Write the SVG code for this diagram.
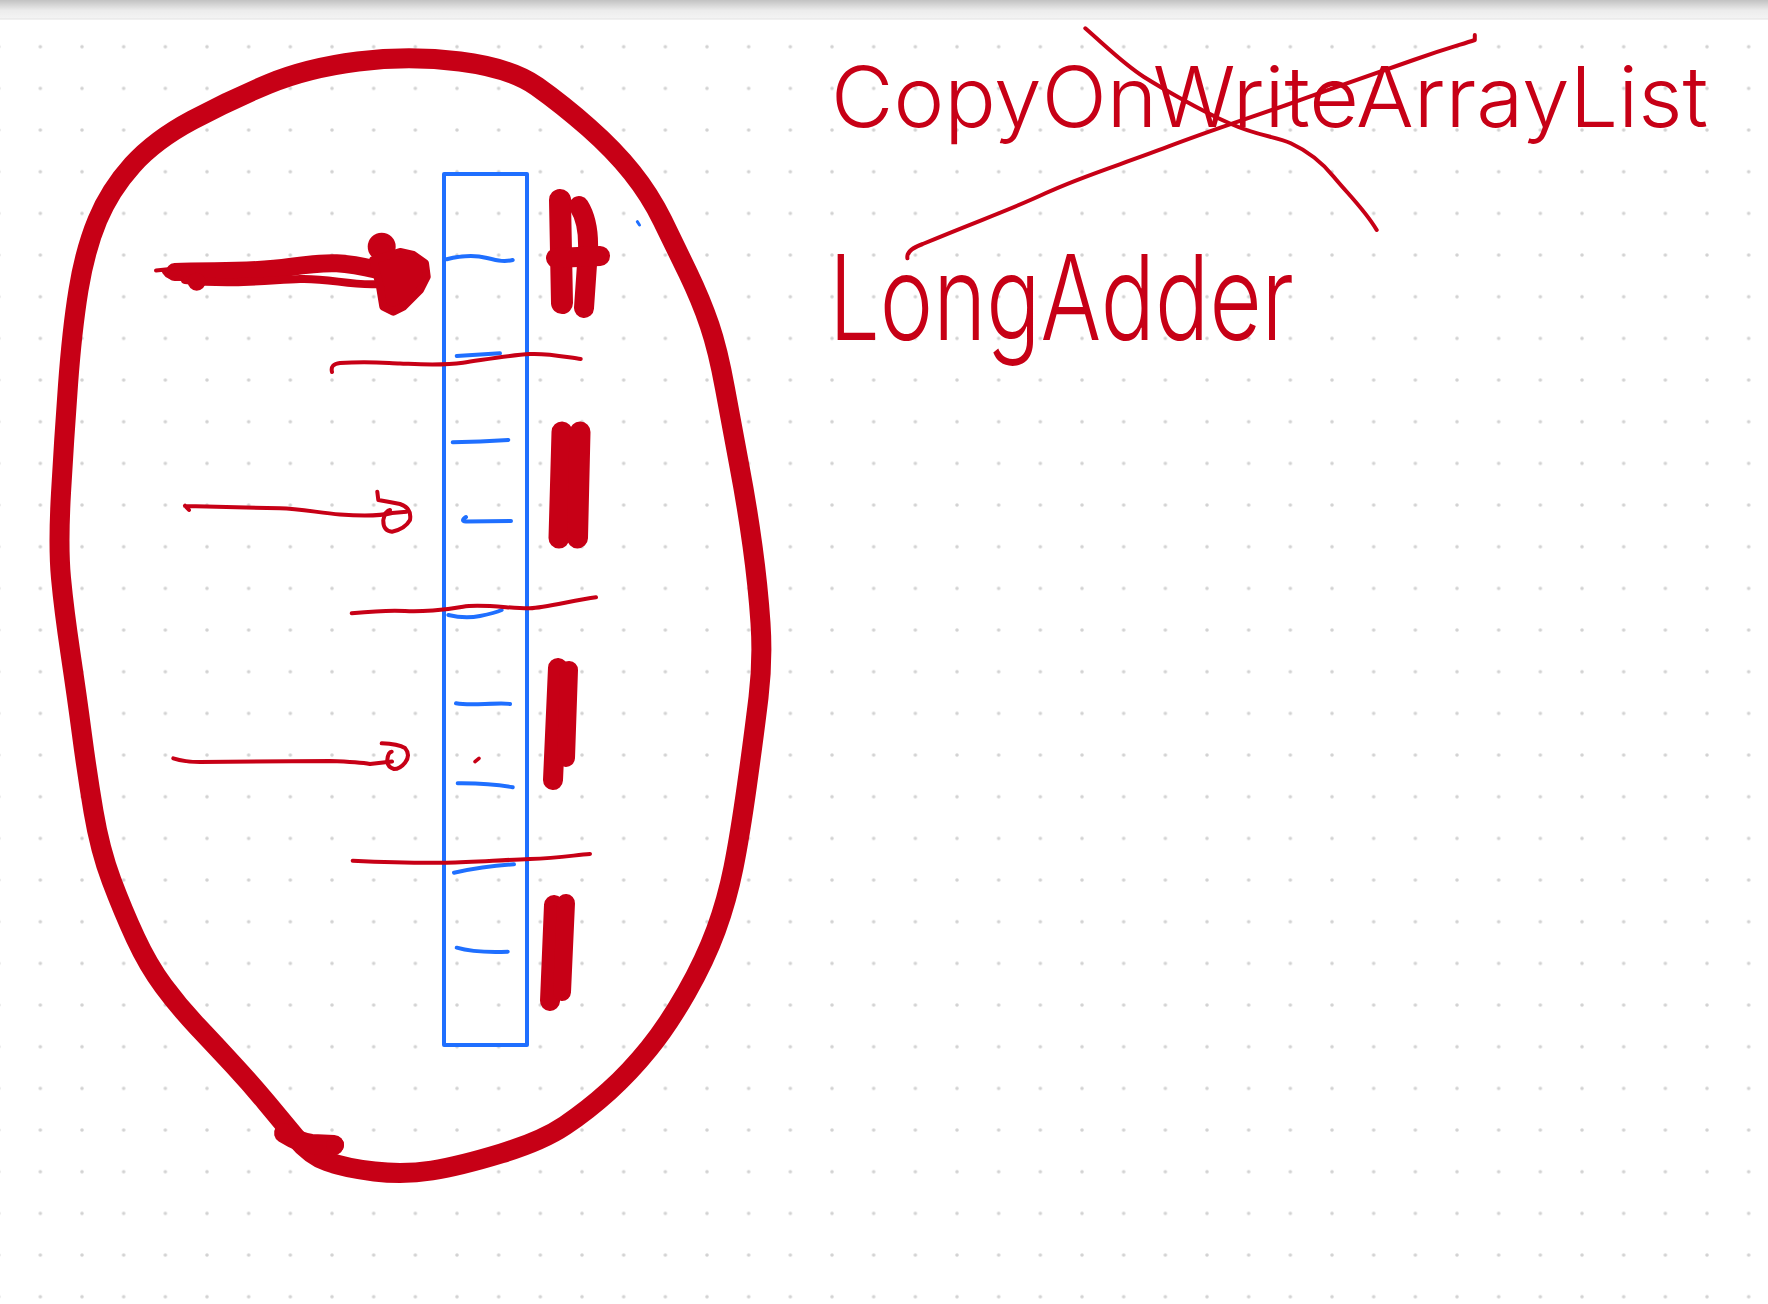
<svg xmlns="http://www.w3.org/2000/svg" width="1768" height="1304" viewBox="0 0 1768 1304">
  <defs>
    <linearGradient id="topbar" x1="0" y1="0" x2="0" y2="1">
      <stop offset="0" stop-color="#c2c2c2"/>
      <stop offset="0.55" stop-color="#ececec"/>
      <stop offset="1" stop-color="#f4f4f4"/>
    </linearGradient>
    <pattern id="dots" x="19.5" y="25.9" width="41.667" height="41.667" patternUnits="userSpaceOnUse">
      <circle cx="20.83" cy="20.83" r="1.8" fill="#d2d2d2"/>
    </pattern>
  </defs>
  <style>
    .red { fill: none; stroke: #c70016; stroke-linecap: round; stroke-linejoin: round; }
    .redfill { fill: #c70016; stroke: #c70016; stroke-linejoin: round; }
    .blue { fill: none; stroke: #1f6fff; stroke-linecap: round; stroke-linejoin: round; }
    .thin { stroke-width: 4; }
    .hand { font-family: Inter, "Liberation Sans", sans-serif; font-weight: 300; fill: #c70016; }
  </style>

  <rect x="0" y="0" width="1768" height="1304" fill="#ffffff"/>
  <rect x="0" y="19" width="1768" height="1285" fill="url(#dots)"/>
  <rect x="0" y="0" width="1768" height="19" fill="url(#topbar)"/>
  <line x1="0" y1="19" x2="1768" y2="19" stroke="#e2e2e2" stroke-width="1"/>

  <g id="outer-blob">
    <path class="red" stroke-width="20" d="M358 61.5 Q409 55 460 61.5 Q511 68 537 86.5 Q563 105 588.5 127.5 Q614 150 632 172.5 Q650 195 662.5 220.5 Q675 246 688 273 Q701 300 709.5 325 Q718 350 725 388.5 Q732 427 739.5 466.5 Q747 506 752.5 546 Q758 586 760.5 623 Q763 660 758.5 697.5 Q754 735 747 785 Q740 835 733.5 867.5 Q727 900 716 930 Q705 960 686.5 992.5 Q668 1025 649 1048.5 Q630 1072 609 1091 Q588 1110 565 1125.5 Q542 1141 501 1153.5 Q460 1166 432 1170.5 Q404 1175 374.5 1171.5 Q345 1168 327.5 1161.5 Q310 1155 295.5 1137.5 Q281 1120 266 1102 Q251 1084 233 1064.5 Q215 1045 197 1026 Q179 1007 163.5 986 Q148 965 135.5 938 Q123 911 111.5 880.5 Q100 850 93.5 811.5 Q87 773 82 735 Q77 697 70.5 653.5 Q64 610 61 578 Q58 546 61 493 Q64 440 68 385 Q72 330 78.5 290 Q85 250 97.5 220 Q110 190 132.5 165 Q155 140 192.5 120 Q230 100 268.5 84 Q307 68 358 61.5 Z"/>
    <path class="red" stroke-width="20" d="M284 1133 Q300 1143 312 1144 L334 1145"/>
    <circle cx="335" cy="1145" r="9" fill="#c70016"/>
  </g>

  <g id="cell-array">
    <rect x="444" y="174" width="83" height="871" fill="none" stroke="#1f6fff" stroke-width="4" stroke-linejoin="round"/>
    <path class="blue thin" d="M446.7 259.3 C460 256 475 255 487 258 S505 262 512.7 260"/>
    <path class="blue thin" d="M456.7 356 L500 353.3"/>
    <path class="blue thin" d="M452.7 442.3 Q480 442 508.3 440"/>
    <path class="blue thin" d="M466 517 Q460 521 466 521.5 L511 521"/>
    <path class="blue thin" d="M448.3 615 Q465 619 480 616 T501.7 610"/>
    <path class="blue thin" d="M456 703.3 Q465 705 485 704 T510 704"/>
    <path class="blue thin" d="M457.7 783.3 Q490 783 512.7 787.3"/>
    <path class="blue thin" d="M454 872.7 Q485 866 514 864.3"/>
    <path class="blue thin" d="M456.7 947.7 Q475 953 507.7 951.7"/>
    <path class="blue" stroke-width="3" d="M637.3 221.7 L639.5 225"/>
  </g>

  <g id="cell-separators">
    <path class="red thin" d="M332 372 Q330 364 340 363 C370 361 385 363 400 363.5 S440 366 463 362.7 S510 355 530 354 S570 358 580.7 359"/>
    <path class="red thin" d="M351.7 613.3 C375 611 390 610 405 611 S445 610 463 606.7 S515 609 530 608.3 S575 600 596 597.3"/>
    <path class="red thin" d="M352.7 860.7 C380 862 420 863 446.7 862.7 S500 860 530 859 S575 855 590 854"/>
    <path class="red" stroke-width="3.5" d="M475 761.7 L479 758.3"/>
  </g>

  <g id="counter-marks">
    <path class="red" stroke-width="22" d="M560 200 L562 303"/>
    <path class="red" stroke-width="20" d="M579 206 Q589 222 588 250 L584 308"/>
    <path class="red" stroke-width="20" d="M556 258 L600 256"/>
    <path class="red" stroke-width="21" d="M562 432 L559 538"/>
    <path class="red" stroke-width="21" d="M580 432 L577.5 538"/>
    <path class="red" stroke-width="20" d="M558 668 L553 780"/>
    <path class="red" stroke-width="18" d="M569 670 L566 758"/>
    <path class="red" stroke-width="20" d="M554 905 L550 1001"/>
    <path class="red" stroke-width="18" d="M566 903 L562 992"/>
  </g>

  <g id="connectors">
    <g id="arrow-1">
      <path class="red" stroke-width="18" d="M175 272 C210 270 250 273 290 267 S345 262 378 270"/>
      <path class="red" stroke-width="8" d="M185 280 C230 285 270 280 300 279 S350 286 380 284"/>
      <path class="red" stroke-width="4" d="M156 270.5 L180 268 M164 272 Q168 279 182 279"/>
      <circle cx="196.7" cy="281.7" r="9" fill="#c70016"/>
      <circle cx="381.7" cy="246.7" r="14" fill="#c70016"/>
      <path class="redfill" stroke-width="8" d="M373.3 260 L400 252 L413.3 255 L425 263.3 L426.7 276.7 L420 290 L403.3 306.7 L393.3 311.7 L383.3 306.7 L380 286.7 Z"/>
    </g>
    <g id="arrow-2">
      <path class="red thin" d="M185 505.7 L189 510 M185 506 C220 507 260 508 280 508.3 S320 513 340 514.5 S380 516 392 513 L406.7 511.7"/>
      <path class="red thin" d="M377.3 491.7 L378.3 500 Q390 502 400 504 Q412 508 410 520 Q405 529 392 531.7 Q383 531 383.3 520 Q385 511 390 510"/>
    </g>
    <g id="arrow-3">
      <path class="red thin" d="M173.3 758.3 Q185 762 200 762 L330 761 Q360 762 370 764 L392 761.5"/>
      <path class="red thin" d="M381.7 743.3 Q398 744 405 748 Q411 755 405 762.7 Q400 769 394 769 Q387 767 387.3 760 Q388 752 391.7 751.7"/>
    </g>
  </g>

  <g id="title-copyonwrite">
    <text class="hand" x="831" y="127" font-size="84" textLength="877" lengthAdjust="spacingAndGlyphs">CopyOnWriteArrayList</text>
    <path class="red thin" d="M907.4 258.3 Q906 250 922.7 244 C980 220 1010 210 1045.4 193.3 S1120 165 1168 146.7 S1250 118 1290.8 103.3 S1380 72 1413.5 60 S1460 45 1474.8 40 L1474.8 35"/>
    <path class="red thin" d="M1085.3 28.3 C1110 50 1125 65 1143.6 76.7 S1200 110 1229.4 123.3 S1275 136 1290.8 143.3 S1320 160 1333.7 176.7 S1365 210 1376.7 230"/>
  </g>

  <g id="title-longadder">
    <text class="hand" x="829" y="340" font-size="118" textLength="465" lengthAdjust="spacingAndGlyphs">LongAdder</text>
  </g>
</svg>
